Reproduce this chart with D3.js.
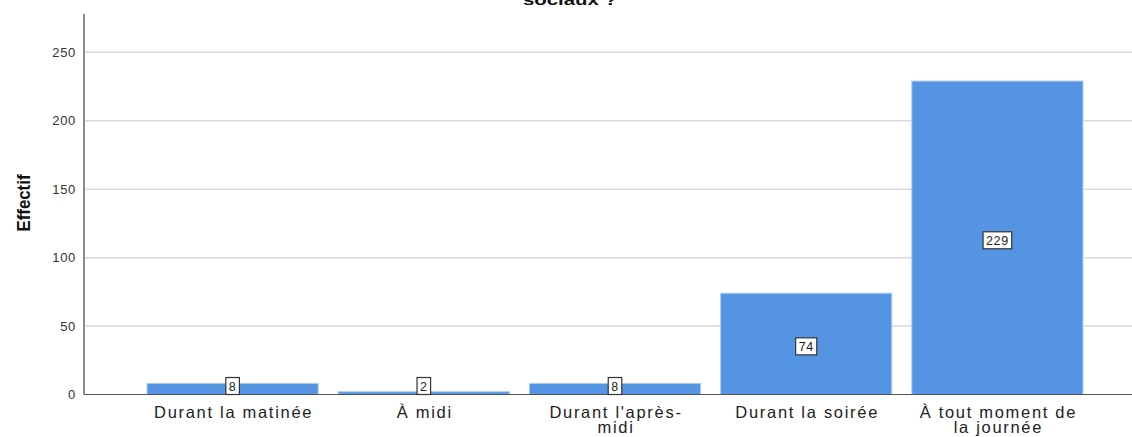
<!DOCTYPE html>
<html>
<head>
<meta charset="utf-8">
<script src="https://cdn.jsdelivr.net/npm/d3@7"></script>
<style>
  html, body { margin: 0; padding: 0; background: #fff; }
  svg { display: block; font-family: "Liberation Sans", Arial, sans-serif; }
</style>
</head>
<body>
<svg id="chart" width="1132" height="437"></svg>
<script>
// Moments of use and their counts
const categories = [
  ["Durant la matinée"],
  ["À midi"],
  ["Durant l'après-", "midi"],
  ["Durant la soirée"],
  ["À tout moment de", "la journée"]
];
const counts = [8, 2, 8, 74, 229];
const yTicks = [0, 50, 100, 150, 200, 250];
const yMax = 278;
const titleLine = "sociaux ?";
const yLabel = "Effectif";

const svg = d3.select("#chart");
const plotLeft = 84, plotRight = 1132, plotTop = 14, plotBottom = 394.5;

const x = d3.scaleBand()
  .domain(d3.range(counts.length))
  .range([137, 1093])
  .paddingInner(0.105)
  .paddingOuter(0.0525);

const y = d3.scaleLinear().domain([0, yMax]).range([plotBottom, plotTop]);

// horizontal grid lines
svg.append("g").selectAll("line")
  .data(yTicks.filter(d => d > 0))
  .join("line")
  .attr("x1", plotLeft).attr("x2", plotRight)
  .attr("y1", d => y(d)).attr("y2", d => y(d))
  .attr("stroke", "#d9d9d9").attr("stroke-width", 1.5);

// y axis with tick labels
const yAxis = svg.append("g")
  .attr("transform", `translate(${plotLeft},0)`)
  .call(d3.axisLeft(y).tickValues(yTicks).tickSize(0).tickPadding(8));
yAxis.select(".domain").remove();
yAxis.selectAll("text")
  .attr("font-size", 13)
  .attr("letter-spacing", "0.7px")
  .attr("fill", "#333")
  .attr("font-family", "Liberation Sans, Arial, sans-serif");

svg.append("line")
  .attr("x1", plotLeft).attr("x2", plotLeft)
  .attr("y1", plotTop).attr("y2", plotBottom)
  .attr("stroke", "#8c8c8c").attr("stroke-width", 2);

// bars
svg.append("g").selectAll("rect")
  .data(counts)
  .join("rect")
  .attr("x", (d, i) => x(i))
  .attr("width", x.bandwidth())
  .attr("y", d => y(d))
  .attr("height", d => plotBottom - y(d))
  .attr("fill", "#5594e2")
  .attr("stroke", "#a9c9f2")
  .attr("stroke-width", 1);

// baseline
svg.append("line")
  .attr("x1", plotLeft).attr("x2", plotRight)
  .attr("y1", plotBottom).attr("y2", plotBottom)
  .attr("stroke", "#555").attr("stroke-width", 1);

// value labels in boxes
const boxH = 17;
const lbl = svg.append("g").selectAll("g")
  .data(counts)
  .join("g")
  .attr("transform", (d, i) => {
    const cx = x(i) + x.bandwidth() / 2;
    const mid = (y(d) + plotBottom) / 2 + 2.5;
    const cy = Math.min(mid, plotBottom - boxH / 2);
    return `translate(${cx},${cy})`;
  });
lbl.append("text")
  .attr("text-anchor", "middle")
  .attr("dy", "0.36em")
  .attr("font-size", 12.5)
  .attr("letter-spacing", "0.6px")
  .attr("fill", "#222")
  .text(d => d);
lbl.each(function() {
  const g = d3.select(this);
  const bb = g.select("text").node().getBBox();
  const w = bb.width + 6;
  g.insert("rect", "text")
    .attr("x", -w / 2).attr("y", -boxH / 2)
    .attr("width", w).attr("height", boxH)
    .attr("fill", "#fff")
    .attr("stroke", "#333").attr("stroke-width", 1.2);
});

// category labels
svg.append("g").selectAll("text")
  .data(categories)
  .join("text")
  .attr("x", (d, i) => x(i) + x.bandwidth() / 2 + 1)
  .attr("y", 417.5)
  .attr("text-anchor", "middle")
  .attr("font-size", 16.5)
  .attr("letter-spacing", "1.7px")
  .attr("fill", "#222")
  .each(function(lines) {
    const t = d3.select(this);
    lines.forEach((s, k) => {
      t.append("tspan")
        .attr("x", t.attr("x"))
        .attr("dy", k === 0 ? 0 : 15.5)
        .text(s);
    });
  });

// y axis title
svg.append("text")
  .attr("transform", "translate(30,203) rotate(-90)")
  .attr("text-anchor", "middle")
  .attr("font-size", 18)
  .attr("font-weight", "bold")
  .attr("fill", "#111")
  .attr("textLength", 57)
  .attr("lengthAdjust", "spacingAndGlyphs")
  .text(yLabel);

// chart title (last line)
svg.append("text")
  .attr("x", 570)
  .attr("y", 5)
  .attr("text-anchor", "middle")
  .attr("font-size", 15)
  .attr("font-weight", "bold")
  .attr("fill", "#111")
  .attr("textLength", 94)
  .attr("lengthAdjust", "spacingAndGlyphs")
  .text(titleLine);
</script>
</body>
</html>
